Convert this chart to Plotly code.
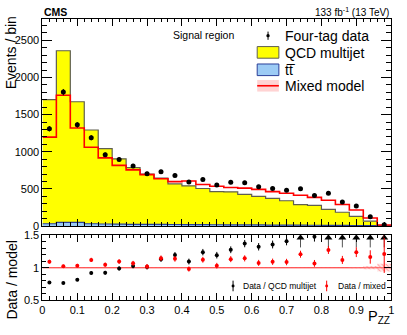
import numpy as np
import plotly.graph_objects as go

# ---------------- data ----------------
bin_edges = np.round(np.arange(26) * 0.04, 2)
bin_centers = np.round((bin_edges[:-1] + bin_edges[1:]) / 2, 2)

qcd_stack = [1703, 2360, 1673, 1293, 1042, 905, 787, 698, 645, 567, 541, 505, 463,
             460, 425, 400, 372, 340, 289, 278, 224, 185, 130, 65, 4]
ttbar = [30, 50, 50, 30, 27, 25, 23, 22, 21, 20, 19, 18, 17, 16, 15, 14, 13, 12,
         11, 10, 9, 8, 6, 4, 1]
mixed_model = [1197, 1760, 1319, 1060, 917, 817, 756, 692, 636, 597, 605, 558, 536,
               519, 510, 493, 463, 441, 415, 385, 346, 289, 216, 108, 14]
four_tag_data = [1310, 1803, 1362, 1189, 960, 895, 808, 705, 730, 679, 593, 627, 553,
                 588, 584, 530, 506, 480, 502, 411, 441, 324, 268, 126, 17]
mixed_rel_unc = [0.003] * 22 + [0.008, 0.025, 0.06]

y_ticks_main = [0, 500, 1000, 1500, 2000, 2500]
ratio_ticks = [0.5, 1, 1.5]
ratio_tick_text = ["0.5", "1", "1.5"]

# ---------------- derived ----------------
qcd_arr = np.array(qcd_stack, float)
mix_arr = np.array(mixed_model, float)
dat_arr = np.array(four_tag_data, float)
dat_err = np.sqrt(dat_arr)

r_qcd = dat_arr / qcd_arr
r_qcd_err = dat_err / qcd_arr
r_mix = dat_arr / mix_arr
r_mix_err = dat_err / mix_arr

RATIO_MAX = 1.5
ok = r_qcd <= RATIO_MAX
over = ~ok

FONT = "Liberation Sans, Arial, Helvetica, sans-serif"
W, H = 407, 335


def px(x):
    return x / W


def py(y):
    return 1 - y / H


def step(vals):
    v = list(vals)
    return list(bin_edges), v + [v[-1]]


fig = go.Figure()

# QCD multijet (stack total)
sx, sy = step(qcd_stack)
fig.add_trace(go.Scatter(x=sx, y=sy, mode="lines", line=dict(shape="hv", color="#5f5f50", width=1.2),
                         fill="tozeroy", fillcolor="#ffff00", xaxis="x", yaxis="y", showlegend=False,
                         hoverinfo="skip"))
# ttbar
sx, sy = step(ttbar)
fig.add_trace(go.Scatter(x=sx, y=sy, mode="lines", line=dict(shape="hv", color="#2a3f99", width=1.2),
                         fill="tozeroy", fillcolor="#9ccbf5", xaxis="x", yaxis="y", showlegend=False,
                         hoverinfo="skip"))
# mixed model
sx, sy = step(mixed_model)
fig.add_trace(go.Scatter(x=sx, y=sy, mode="lines", line=dict(shape="hv", color="#ff0000", width=1.6),
                         xaxis="x", yaxis="y", showlegend=False, hoverinfo="skip"))
# data
fig.add_trace(go.Scatter(x=bin_centers, y=dat_arr, mode="markers",
                         marker=dict(color="black", size=5),
                         error_y=dict(type="data", array=dat_err, color="black", thickness=1, width=0),
                         xaxis="x", yaxis="y", showlegend=False))

# ---------------- ratio panel ----------------
fig.add_trace(go.Bar(x=bin_centers, y=2 * np.array(mixed_rel_unc), base=1 - np.array(mixed_rel_unc),
                     width=0.04, marker=dict(color="rgba(0,0,0,0)", line=dict(width=0),
                                             pattern=dict(shape="\\", fgcolor="#ff5555", bgcolor="rgba(255,200,200,0.4)",
                                                          size=3, solidity=0.3)),
                     xaxis="x2", yaxis="y2", showlegend=False, hoverinfo="skip"))

fig.add_trace(go.Scatter(x=bin_centers[ok], y=r_qcd[ok], mode="markers",
                         marker=dict(color="black", size=4),
                         error_y=dict(type="data", array=r_qcd_err[ok], color="black", thickness=1, width=0),
                         xaxis="x2", yaxis="y2", showlegend=False))
arrow_y = np.full(over.sum(), 1.465)
fig.add_trace(go.Scatter(x=bin_centers[over], y=arrow_y, mode="markers",
                         marker=dict(color="black", size=7, symbol="triangle-up"),
                         error_y=dict(type="data", symmetric=False, array=np.zeros(over.sum()),
                                      arrayminus=np.full(over.sum(), 0.15), color="#555555",
                                      thickness=1, width=0),
                         xaxis="x2", yaxis="y2", showlegend=False))
fig.add_trace(go.Scatter(x=bin_centers, y=r_mix, mode="markers",
                         marker=dict(color="#ff0000", size=4),
                         error_y=dict(type="data", array=r_mix_err, color="#ff0000", thickness=1, width=0),
                         xaxis="x2", yaxis="y2", showlegend=False))

shapes = [dict(type="line", xref="x2", yref="y2", x0=0, x1=1, y0=1, y1=1,
               line=dict(color="#ff0000", width=1.2), layer="below")]

# ---------------- legend (custom) ----------------
annotations = []


def txt(x, y, s, size, xanchor="left", bold=False, color="black"):
    annotations.append(dict(x=px(x), y=py(y), xref="paper", yref="paper", text=("<b>%s</b>" % s) if bold else s,
                            showarrow=False, xanchor=xanchor, yanchor="middle",
                            font=dict(family=FONT, size=size, color=color)))


# Four-tag data marker
shapes.append(dict(type="line", xref="paper", yref="paper", x0=px(269), x1=px(269), y0=py(27.5), y1=py(36),
                   line=dict(color="black", width=1)))
shapes.append(dict(type="circle", xref="paper", yref="paper", x0=px(267.3), x1=px(270.7), y0=py(30), y1=py(33.4),
                   fillcolor="black", line=dict(color="black", width=0)))
txt(284, 32, "Four-tag data", 14)
# QCD box
shapes.append(dict(type="rect", xref="paper", yref="paper", x0=px(258), x1=px(280), y0=py(43), y1=py(55),
                   fillcolor="#ffff00", line=dict(color="#5f5f50", width=1)))
txt(284, 49.5, "QCD multijet", 14)
# ttbar box
shapes.append(dict(type="rect", xref="paper", yref="paper", x0=px(258), x1=px(280), y0=py(61), y1=py(73),
                   fillcolor="#9ccbf5", line=dict(color="#2a3f99", width=1)))
txt(284, 67, "tt\u0305", 14)
# mixed model box
shapes.append(dict(type="rect", xref="paper", yref="paper", x0=px(258), x1=px(280), y0=py(77.5), y1=py(89.5),
                   fillcolor="rgba(255,130,130,0.35)", line=dict(width=0)))
shapes.append(dict(type="line", xref="paper", yref="paper", x0=px(258), x1=px(280), y0=py(83.5), y1=py(83.5),
                   line=dict(color="#ff0000", width=1.6)))
txt(284, 84, "Mixed model", 14)

# ratio legend
shapes.append(dict(type="line", xref="paper", yref="paper", x0=px(233.5), x1=px(233.5), y0=py(285), y1=py(296),
                   line=dict(color="black", width=1)))
shapes.append(dict(type="circle", xref="paper", yref="paper", x0=px(232), x1=px(235), y0=py(289), y1=py(292),
                   fillcolor="black", line=dict(width=0)))
txt(242, 291, "Data / QCD multijet", 8.5)
shapes.append(dict(type="line", xref="paper", yref="paper", x0=px(328.5), x1=px(328.5), y0=py(285), y1=py(296),
                   line=dict(color="#ff0000", width=1)))
shapes.append(dict(type="circle", xref="paper", yref="paper", x0=px(327), x1=px(330), y0=py(289), y1=py(292),
                   fillcolor="#ff0000", line=dict(width=0)))
txt(338, 291, "Data / mixed", 8.5)

# header / labels
txt(40, 7, "CMS", 10.5, bold=True)
txt(394, 7, "133 fb<sup>-1</sup> (13 TeV)", 10, xanchor="right")
txt(171, 31, "Signal region", 10.5)

annotations.append(dict(x=px(9), y=py(49), xref="paper", yref="paper", text="Events / bin", textangle=-90,
                        showarrow=False, xanchor="center", yanchor="middle",
                        font=dict(family=FONT, size=14, color="black")))
annotations.append(dict(x=px(9), y=py(284), xref="paper", yref="paper", text="Data / model", textangle=-90,
                        showarrow=False, xanchor="center", yanchor="middle",
                        font=dict(family=FONT, size=14, color="black")))
annotations.append(dict(x=px(395), y=py(334), xref="paper", yref="paper", text="P<sub>ZZ</sub>",
                        showarrow=False, xanchor="right", yanchor="bottom",
                        font=dict(family=FONT, size=14.5, color="black")))

x_dom = [40 / W, 394 / W]
common_x = dict(range=[0, 1], domain=x_dom, showline=True, linecolor="black", linewidth=1, mirror="ticks",
                ticks="inside", ticklen=7, tickcolor="black", dtick=0.1, tick0=0, showgrid=False, zeroline=False,
                minor=dict(ticks="inside", ticklen=3.5, dtick=0.02, tickcolor="black", showgrid=False),
                tickfont=dict(family=FONT, size=11, color="black"))

fig.update_layout(
    width=W, height=H, margin=dict(l=0, r=0, t=0, b=0),
    paper_bgcolor="white", plot_bgcolor="white", showlegend=False,
    barmode="overlay",
    xaxis=dict(common_x, anchor="y", showticklabels=False),
    yaxis=dict(domain=[py(228.5), py(14.3)], range=[0, 2790], showline=True, linecolor="black", linewidth=1,
               mirror="ticks", ticks="inside", ticklen=10, tickcolor="black", tickvals=y_ticks_main,
               showgrid=False, zeroline=False, anchor="x",
               minor=dict(ticks="inside", ticklen=5, dtick=100, tickcolor="black", showgrid=False),
               tickfont=dict(family=FONT, size=11, color="black")),
    xaxis2=dict(common_x, anchor="y2", matches="x", showticklabels=True),
    yaxis2=dict(domain=[py(305), py(237.3)], range=[0.5, 1.515], showline=True, linecolor="black", linewidth=1,
                mirror="ticks", ticks="inside", ticklen=7, tickcolor="black", tickvals=ratio_ticks,
                ticktext=ratio_tick_text, showgrid=False, zeroline=False, anchor="x2",
                minor=dict(ticks="inside", ticklen=4, dtick=0.1, tickcolor="black", showgrid=False),
                tickfont=dict(family=FONT, size=11, color="black")),
    shapes=shapes, annotations=annotations,
)

fig.write_html("out.html", config={"displayModeBar": False},
               post_script="document.body.style.margin='0';document.body.style.overflow='hidden';")
